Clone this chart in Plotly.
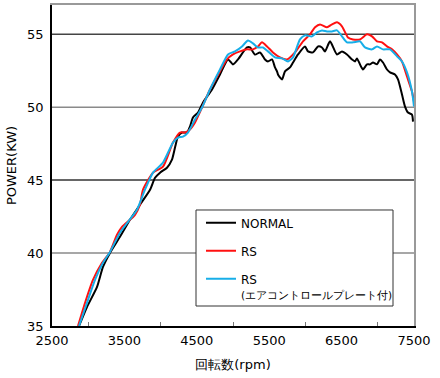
import plotly.graph_objects as go

normal_rpm = [2873, 2983, 3122, 3204, 3301, 3439, 3577, 3715, 3854, 3923, 3992, 4088, 4157, 4199, 4240, 4296, 4365, 4406, 4447, 4517, 4586, 4710, 4820, 4931, 5000, 5069, 5193, 5235, 5304, 5373, 5442, 5483, 5539, 5580, 5608, 5621, 5677, 5718, 5787, 5829, 5898, 5994, 6036, 6105, 6174, 6229, 6271, 6340, 6436, 6505, 6574, 6643, 6685, 6712, 6754, 6795, 6851, 6892, 6934, 6989, 7030, 7072, 7127, 7169, 7237, 7279, 7334, 7376, 7417, 7472, 7486]
normal_kw = [35.0, 36.3, 37.68, 39.05, 40.01, 41.11, 42.28, 43.31, 44.34, 45.16, 45.51, 45.85, 46.4, 47.23, 47.98, 48.26, 48.26, 48.67, 49.29, 49.63, 50.32, 51.21, 52.24, 53.27, 52.93, 53.27, 54.09, 54.09, 53.6, 53.75, 53.27, 53.13, 53.27, 52.72, 52.45, 52.24, 51.9, 52.45, 52.72, 53.06, 53.61, 54.16, 53.82, 53.75, 54.16, 54.09, 53.82, 54.51, 53.61, 53.82, 53.61, 53.27, 53.13, 53.34, 52.93, 52.58, 52.93, 52.93, 53.06, 52.93, 53.27, 53.06, 52.58, 52.38, 52.24, 51.9, 50.87, 50.04, 49.63, 49.49, 49.01]

rs_rpm = [2859, 2956, 3066, 3191, 3301, 3398, 3467, 3577, 3646, 3715, 3757, 3895, 4033, 4171, 4268, 4337, 4406, 4475, 4572, 4682, 4820, 4917, 5000, 5097, 5193, 5276, 5345, 5400, 5470, 5552, 5649, 5746, 5856, 5967, 6063, 6133, 6202, 6298, 6367, 6436, 6505, 6588, 6657, 6754, 6851, 6920, 6989, 7058, 7127, 7196, 7265, 7334, 7403, 7472, 7500]
rs_kw = [35.0, 36.58, 38.16, 39.33, 40.08, 41.25, 41.8, 42.28, 42.62, 43.31, 44.34, 45.51, 45.92, 47.57, 48.26, 48.26, 48.46, 48.94, 49.97, 51.21, 52.45, 53.27, 53.61, 53.82, 53.96, 53.96, 54.16, 54.44, 54.16, 53.75, 53.41, 53.27, 53.75, 54.51, 54.99, 55.47, 55.67, 55.47, 55.67, 55.81, 55.54, 54.78, 54.64, 54.64, 54.99, 54.85, 54.51, 54.44, 54.16, 53.96, 53.61, 53.13, 52.1, 51.07, 50.38]

rsp_rpm = [2873, 2983, 3094, 3204, 3301, 3439, 3550, 3674, 3784, 3895, 4033, 4171, 4240, 4309, 4378, 4475, 4572, 4682, 4820, 4931, 5028, 5124, 5207, 5276, 5345, 5414, 5483, 5580, 5677, 5760, 5829, 5925, 5994, 6091, 6160, 6229, 6298, 6367, 6436, 6505, 6574, 6657, 6754, 6823, 6920, 6989, 7072, 7169, 7265, 7334, 7403, 7472, 7500]
rsp_kw = [35.0, 36.58, 38.16, 39.33, 40.08, 41.39, 42.14, 42.97, 44.34, 45.51, 46.2, 47.57, 47.91, 47.98, 48.26, 49.15, 49.97, 51.21, 52.58, 53.61, 53.82, 54.16, 54.57, 54.37, 54.09, 54.09, 53.82, 53.41, 53.34, 53.13, 53.41, 54.64, 54.92, 54.85, 55.12, 55.26, 55.19, 55.19, 55.26, 54.85, 54.44, 54.44, 54.51, 54.09, 53.96, 54.16, 53.96, 53.96, 53.48, 53.13, 52.38, 51.07, 50.04]

x_ticks = [2500, 3500, 4500, 5500, 6500, 7500]
x_minor = [3000, 4000, 5000, 6000, 7000]
y_ticks = [35, 40, 45, 50, 55]
grid_levels = [40, 45, 50, 55]
grid_colors = ["#8a8a8a", "#333333", "#8a8a8a", "#444444"]

FONT = "DejaVu Sans"

fig = go.Figure()
series = [
    ("NORMAL", normal_rpm, normal_kw, "#000000"),
    ("RS", rs_rpm, rs_kw, "#ff1010"),
    ("RS<br><span style='font-size:10.5px'>(エアコントロールプレート付)</span>", rsp_rpm, rsp_kw, "#17aee8"),
]
for i, (name, xs, ys, col) in enumerate(series):
    fig.add_trace(go.Scatter(
        x=xs, y=ys, name=name, mode="lines",
        line=dict(color=col, width=2, shape="spline", smoothing=0.6),
        legendgroup=f"g{i}",
    ))

for lvl, col in zip(grid_levels, grid_colors):
    fig.add_shape(type="line", xref="paper", x0=0, x1=1, yref="y", y0=lvl, y1=lvl,
                  line=dict(color=col, width=1.5), layer="below")

# legend frame
fig.add_shape(type="rect", xref="paper", yref="paper",
              x0=0.3978, x1=0.942, y0=0.0623, y1=0.3614,
              line=dict(color="#333333", width=1), fillcolor="white", layer="above")

fig.update_layout(
    width=440, height=378,
    margin=dict(l=52, r=26, t=5, b=52, autoexpand=False),
    paper_bgcolor="white", plot_bgcolor="white",
    font=dict(family=FONT, size=13, color="#000"),
    showlegend=True,
    legend=dict(
        x=0.4116, y=0.366, xanchor="left", yanchor="top",
        borderwidth=0, bgcolor="rgba(0,0,0,0)",
        font=dict(family=FONT, size=12, color="#000"),
        traceorder="grouped", tracegroupgap=9, valign="top",
        itemwidth=30,
    ),
    xaxis=dict(
        range=[2500, 7500], tickvals=x_ticks, ticktext=[str(v) for v in x_ticks],
        showgrid=False, zeroline=False, automargin=False,
        showline=True, linecolor="#000", linewidth=1.5, mirror=False,
        ticks="", tickfont=dict(size=13), ticklabelstandoff=2,
        minor=dict(tickvals=x_minor, ticks="inside", ticklen=4, tickcolor="#777", showgrid=False),
        title=dict(text="回転数(rpm)", font=dict(size=13), standoff=13),
    ),
    yaxis=dict(
        range=[35, 57], tickvals=y_ticks, ticktext=[str(v) for v in y_ticks],
        showgrid=False, zeroline=False, automargin=False,
        showline=True, linecolor="#000", linewidth=1.5,
        ticks="", tickfont=dict(size=13), ticklabelstandoff=4,
        title=dict(text="POWER(KW)", font=dict(size=13), standoff=8),
    ),
    xaxis2=dict(overlaying="x", side="top", range=[2500, 7500], showline=True, automargin=False,
                linecolor="#999", linewidth=1.5, showticklabels=False, showgrid=False, zeroline=False),
    yaxis2=dict(overlaying="y", side="right", range=[35, 57], showline=True, automargin=False,
                linecolor="#999", linewidth=1.5, showticklabels=False, showgrid=False, zeroline=False),
)
fig.add_trace(go.Scatter(x=[2500], y=[35], xaxis="x2", yaxis="y2", mode="markers",
                         marker=dict(opacity=0), showlegend=False, hoverinfo="skip"))

fig.write_html("out.html", config={"displayModeBar": False},
               post_script="document.body.style.margin='0';")
